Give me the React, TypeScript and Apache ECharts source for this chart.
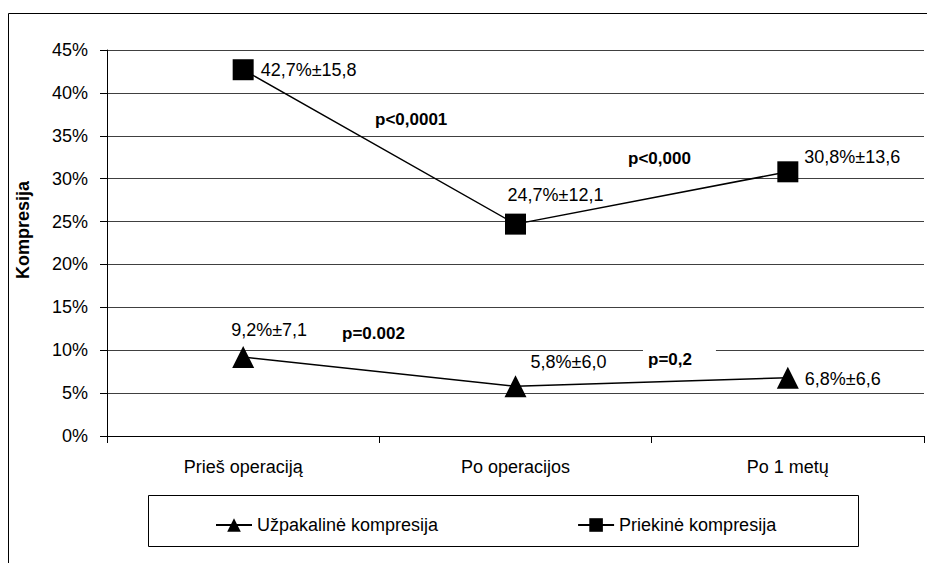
import React, { useEffect, useRef } from 'react';
import * as echarts from 'echarts';

const categories = ['Prieš operaciją', 'Po operacijos', 'Po 1 metų'];
const posteriorName = 'Užpakalinė kompresija';
const anteriorName = 'Priekinė kompresija';
const posteriorMean = [9.2, 5.8, 6.8];
const posteriorSD = [7.1, 6.0, 6.6];
const anteriorMean = [42.7, 24.7, 30.8];
const anteriorSD = [15.8, 12.1, 13.6];
const yMin = 0;
const yMax = 45;
const yStep = 5;
const pAnterior = ['p<0,0001', 'p<0,000'];
const pPosterior = ['p=0.002', 'p=0,2'];

const FONT = 'Arial, "Liberation Sans", sans-serif';

const fmt = (v: number) => v.toFixed(1).replace('.', ',');

const anteriorLabelPos: any[] = [
  { position: 'right', distance: 7, offset: [0, 0] },
  { position: 'inside', offset: [40, -29] },
  { position: 'right', distance: 6, offset: [0, -15] },
];
const posteriorLabelPos: any[] = [
  { position: 'inside', offset: [26, -27] },
  { position: 'inside', offset: [53, -24] },
  { position: 'right', distance: 6, offset: [0, 1] },
];

function buildOption() {
  const labelBase = { show: true, color: '#000', fontSize: 18, fontFamily: FONT };
  const pStyle = { fontSize: 17, fontWeight: 'bold', fontFamily: FONT, fill: '#000' };
  return {
    animation: false,
    backgroundColor: '#fff',
    textStyle: { fontFamily: FONT, color: '#000' },
    grid: { left: 107, right: 3, top: 50, bottom: 127, containLabel: false },
    xAxis: {
      type: 'category',
      data: categories,
      boundaryGap: true,
      axisLine: { show: true, lineStyle: { color: '#000', width: 1 } },
      axisTick: { show: true, length: 7, lineStyle: { color: '#000' } },
      axisLabel: { color: '#000', fontSize: 18, fontFamily: FONT, margin: 22 },
    },
    yAxis: {
      type: 'value',
      min: yMin,
      max: yMax,
      interval: yStep,
      axisLine: { show: true, lineStyle: { color: '#000', width: 1 } },
      axisTick: { show: true, length: 7, lineStyle: { color: '#000' } },
      axisLabel: { color: '#000', fontSize: 18, fontFamily: FONT, margin: 19, formatter: '{value}%' },
      splitLine: { show: true, lineStyle: { color: '#404040', width: 1 } },
    },
    legend: {
      data: [posteriorName, anteriorName],
      left: 210,
      top: 511,
      itemGap: 139,
      itemWidth: 36,
      itemHeight: 17,
      textStyle: { color: '#000', fontSize: 18, fontFamily: FONT },
    },
    graphic: [
      {
        type: 'rect',
        silent: true,
        shape: { x: 8.5, y: 13.5, width: 1000, height: 1000 },
        style: { fill: 'none', stroke: '#000', lineWidth: 1 },
        z: 0,
      },
      {
        type: 'rect',
        silent: true,
        shape: { x: 148.5, y: 495.5, width: 710, height: 51 },
        style: { fill: 'none', stroke: '#000', lineWidth: 1 },
      },
      {
        type: 'text',
        x: 23,
        y: 230,
        rotation: Math.PI / 2,
        style: {
          text: 'Kompresija',
          fontSize: 18,
          fontWeight: 'bold',
          fontFamily: FONT,
          fill: '#000',
          align: 'center',
          verticalAlign: 'middle',
        },
      },
      {
        type: 'text',
        x: 375,
        y: 119,
        style: { ...pStyle, text: pAnterior[0], verticalAlign: 'middle' },
      },
      {
        type: 'text',
        x: 628,
        y: 158,
        style: { ...pStyle, text: pAnterior[1], verticalAlign: 'middle' },
      },
      {
        type: 'text',
        x: 342,
        y: 333,
        style: { ...pStyle, text: pPosterior[0], verticalAlign: 'middle' },
      },
      {
        type: 'text',
        x: 643,
        y: 345,
        z: 1,
        style: {
          ...pStyle,
          text: pPosterior[1],
          verticalAlign: 'top',
          backgroundColor: '#fff',
          padding: [6, 24, 5, 5],
        },
      },
    ],
    series: [
      {
        name: posteriorName,
        type: 'line',
        symbol: 'triangle',
        symbolSize: 22,
        lineStyle: { color: '#000', width: 1.5 },
        itemStyle: { color: '#000' },
        label: {
          ...labelBase,
          formatter: (p: any) => fmt(posteriorMean[p.dataIndex]) + '%±' + fmt(posteriorSD[p.dataIndex]),
        },
        data: posteriorMean.map((v, i) => ({ value: v, label: posteriorLabelPos[i] })),
        z: 3,
      },
      {
        name: anteriorName,
        type: 'line',
        symbol: 'rect',
        symbolSize: 21,
        lineStyle: { color: '#000', width: 1.5 },
        itemStyle: { color: '#000' },
        label: {
          ...labelBase,
          formatter: (p: any) => fmt(anteriorMean[p.dataIndex]) + '%±' + fmt(anteriorSD[p.dataIndex]),
        },
        data: anteriorMean.map((v, i) => ({ value: v, label: anteriorLabelPos[i] })),
        z: 3,
      },
    ],
  };
}

export default function App() {
  const ref = useRef<HTMLDivElement>(null);
  useEffect(() => {
    if (!ref.current) return;
    const chart = echarts.init(ref.current, null, { renderer: 'svg' });
    chart.setOption(buildOption() as any);
    return () => chart.dispose();
  }, []);
  return (
    <div
      ref={ref}
      style={{ position: 'absolute', left: 0, top: 0, width: 927, height: 563, background: '#fff' }}
    />
  );
}
